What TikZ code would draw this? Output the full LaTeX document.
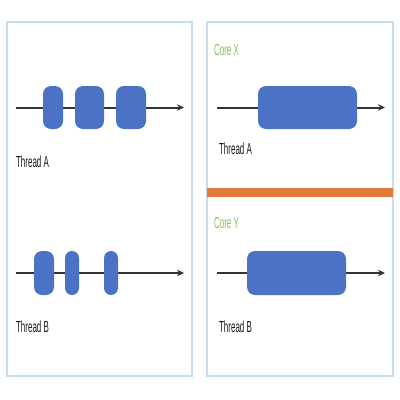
\documentclass[tikz,border=0pt]{standalone}
\usepackage{fontspec}
\setmainfont{Liberation Sans}
\usetikzlibrary{arrows.meta}
\definecolor{panelblue}{HTML}{C9DCF2}
\definecolor{blobblue}{HTML}{4B72C4}
\definecolor{coregreen}{HTML}{8BBE5E}
\definecolor{barorange}{HTML}{E07B39}
\definecolor{linegray}{HTML}{333333}
\tikzset{
  panel/.style={draw=panelblue, line width=1.2pt},
  blob/.style={fill=blobblue, rounded corners=8pt, inner sep=0pt},
  tl/.style={draw=linegray, line width=2pt, -{Stealth[length=7pt,width=6.5pt]}},
  lbl/.style={font=\fontsize{16}{16}\selectfont, xscale=0.5, anchor=west, inner sep=0pt, text=black!90},
  corelbl/.style={lbl, text=coregreen},
}
\begin{document}
\begin{tikzpicture}[x=1pt,y=-1pt]
\useasboundingbox (0,0) rectangle (400,400);
% panels
\draw[panel] (7,22) rectangle (192,376);
\draw[panel] (207,22) rectangle (393,376);
\fill[barorange] (207,188) rectangle (393,197);
% timelines
\coordinate (la0) at (16,107.5);  \coordinate (la1) at (184,107.5);
\coordinate (lb0) at (16,273);    \coordinate (lb1) at (184,273);
\coordinate (ra0) at (217,107.5); \coordinate (ra1) at (385,107.5);
\coordinate (rb0) at (217,273);   \coordinate (rb1) at (385,273);
\draw[tl] (la0) -- (la1);
\draw[tl] (lb0) -- (lb1);
\draw[tl] (ra0) -- (ra1);
\draw[tl] (rb0) -- (rb1);
% left thread A blobs
\node[blob, minimum width=20pt, minimum height=43pt] (a1) at (53,107.5) {};
\node[blob, minimum width=29pt, minimum height=43pt] (a2) at (89.5,107.5) {};
\node[blob, minimum width=30pt, minimum height=43pt] (a3) at (131,107.5) {};
% left thread B blobs
\node[blob, minimum width=20pt, minimum height=44pt] (b1) at (44,273) {};
\node[blob, minimum width=14pt, minimum height=44pt, rounded corners=7pt] (b2) at (72,273) {};
\node[blob, minimum width=14pt, minimum height=44pt, rounded corners=7pt] (b3) at (111,273) {};
% right blobs
\node[blob, minimum width=99pt, minimum height=43pt] (ca) at (307.5,107.5) {};
\node[blob, minimum width=99pt, minimum height=44pt] (cb) at (296.5,273) {};
% labels
\node[lbl] (ta) at (16,162) {Thread A};
\node[lbl] (tb) at (16,327) {Thread B};
\node[corelbl] (cx) at (214,50) {Core X};
\node[lbl] (rta) at (219,149) {Thread A};
\node[corelbl] (cy) at (214,223) {Core Y};
\node[lbl] (rtb) at (219,327) {Thread B};
\end{tikzpicture}
\end{document}
